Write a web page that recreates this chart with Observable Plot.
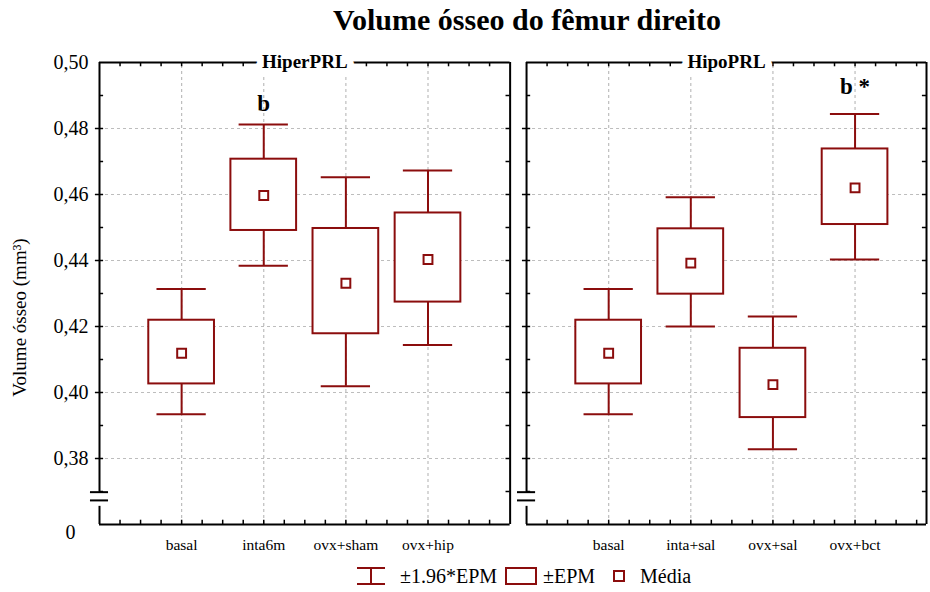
<!DOCTYPE html>
<html><head><meta charset="utf-8">
<script src="https://cdn.jsdelivr.net/npm/d3@7"></script>
<script src="https://cdn.jsdelivr.net/npm/@observablehq/plot@0.6"></script>
<style>
body{margin:0;background:#fff;}
#wrap{position:relative;width:930px;height:592px;font-family:"Liberation Serif",serif;overflow:hidden;}
#title{position:absolute;left:227px;width:600px;top:1px;text-align:center;font-weight:bold;font-size:30px;line-height:38px;font-family:"Liberation Serif",serif;}
#legend{position:absolute;top:562px;left:0;width:930px;height:28px;font-size:20px;font-family:"Liberation Serif",serif;}
#legend .it{position:absolute;top:0;display:flex;align-items:center;height:28px;}
#chart{position:absolute;left:0;top:0;}
#chart svg, #chart svg text{font-family:"Liberation Serif",serif !important;}
</style></head>
<body><div id="wrap"><div id="chart"></div><div id="title">Volume ósseo do fêmur direito</div><div id="legend"></div></div>
<script>
// ---- data ----
const panelNames = ["HiperPRL", "HipoPRL"];
const groupPanel = [0, 0, 0, 0, 1, 1, 1, 1];
const groupNames = ["basal", "inta6m", "ovx+sham", "ovx+hip", "basal", "inta+sal", "ovx+sal", "ovx+bct"];
const groupSlot = [1, 2, 3, 4, 1, 2, 3, 4];
const mean    = [0.4119, 0.4597, 0.4331, 0.4403, 0.4119, 0.4392, 0.4024, 0.4620];
const epmLow  = [0.4026, 0.4491, 0.4178, 0.4274, 0.4026, 0.4298, 0.3924, 0.4509];
const epmHigh = [0.4219, 0.4707, 0.4497, 0.4544, 0.4219, 0.4496, 0.4134, 0.4738];
const ciLow   = [0.3934, 0.4384, 0.4019, 0.4144, 0.3934, 0.4200, 0.3828, 0.4403];
const ciHigh  = [0.4314, 0.4812, 0.4652, 0.4673, 0.4314, 0.4592, 0.4230, 0.4844];
const sigLabel = ["", "b", "", "", "", "", "", "b *"];
const sigY     = [null, 0.4876, null, null, null, null, null, 0.4927];
const yTicks = [0.38, 0.40, 0.42, 0.44, 0.46, 0.48, 0.50];
const yMinor = [0.37, 0.38, 0.39, 0.40, 0.41, 0.42, 0.43, 0.44, 0.45, 0.46, 0.47, 0.48, 0.49];
const breakLabel = "0";

// ---- layout (panel extents in x units) ----
const panelStart = [0, 5.2];
const panelEnd = [5, 10.07];
const yMin = 0.36, yMax = 0.50;
const brk = {top: 0.3698, second: 0.3673, resume: 0.3655};
const RED = "#8b0d0d";
const FONT = "Liberation Serif";
const fmt = v => d3.format(".2f")(v).replace(".", ",");

const groups = groupNames.map((g, i) => ({
  name: g, panel: groupPanel[i],
  x: panelStart[groupPanel[i]] + groupSlot[i],
  mean: mean[i], lo: epmLow[i], hi: epmHigh[i], cilo: ciLow[i], cihi: ciHigh[i],
  sig: sigLabel[i], sigY: sigY[i]
}));
const panels = panelNames.map((p, i) => ({name: p, x0: panelStart[i], x1: panelEnd[i]}));

const hGrid = panels.flatMap(p => yTicks.filter(t => t < yMax).map(t => ({y: t, x1: p.x0, x2: p.x1})));
const minorSide = panels.flatMap(p => yMinor.flatMap(t => [
  {y: t, x1: p.x0, x2: p.x0 + 0.05}, {y: t, x1: p.x1 - 0.05, x2: p.x1}]));
const majorOut = panels.flatMap(p => yTicks.filter(t => t < yMax).map(t => ({y: t, x1: p.x0 - 0.05, x2: p.x0})));
const xTickPos = panels.flatMap(p => d3.range(p.x0 + 0.25, p.x1 - 0.1, 0.25));
const vTicks = xTickPos.flatMap(x => [
  {x, y1: yMin, y2: yMin + 0.0013}, {x, y1: yMax - 0.0013, y2: yMax}]);

const frameH = panels.flatMap(p => [{y: yMax, x1: p.x0, x2: p.x1}, {y: yMin, x1: p.x0, x2: p.x1}]);
const frameV = panels.flatMap(p => [
  {x: p.x1, y1: yMin, y2: yMax},
  {x: p.x0, y1: brk.top, y2: yMax},
  {x: p.x0, y1: yMin, y2: brk.resume}]);
const breaks = panels.flatMap(p => [brk.top, brk.second].map(y => ({y, x1: p.x0 - 0.11, x2: p.x0 + 0.11})));

const chart = Plot.plot({
  width: 930, height: 592,
  marginTop: 62, marginBottom: 68, marginLeft: 99, marginRight: 4,
  x: {domain: [0, 10.07], axis: null},
  y: {domain: [yMin, yMax], axis: null},
  style: {fontFamily: FONT, background: "white"},
  marks: [
    // grid
    Plot.ruleY(hGrid, {y: "y", x1: "x1", x2: "x2", stroke: "#bdbdbd", strokeWidth: 1.2, strokeDasharray: "3,3"}),
    Plot.ruleX(groups, {x: "x", y1: yMin, y2: yMax, stroke: "#bdbdbd", strokeWidth: 1.2, strokeDasharray: "3,3"}),
    // whiskers
    Plot.ruleX(groups, {x: "x", y1: "cilo", y2: "lo", stroke: RED, strokeWidth: 2}),
    Plot.ruleX(groups, {x: "x", y1: "hi", y2: "cihi", stroke: RED, strokeWidth: 2}),
    Plot.ruleY(groups, {y: "cilo", x1: d => d.x - 0.3, x2: d => d.x + 0.3, stroke: RED, strokeWidth: 2}),
    Plot.ruleY(groups, {y: "cihi", x1: d => d.x - 0.3, x2: d => d.x + 0.3, stroke: RED, strokeWidth: 2}),
    // boxes
    Plot.rect(groups, {x1: d => d.x - 0.4, x2: d => d.x + 0.4, y1: "lo", y2: "hi", fill: "white", stroke: RED, strokeWidth: 2}),
    // mean
    Plot.dot(groups, {x: "x", y: "mean", symbol: "square", r: 5, fill: "white", stroke: RED, strokeWidth: 2}),
    // significance
    Plot.text(groups.filter(d => d.sig), {x: "x", y: "sigY", text: "sig", fontFamily: FONT, fontSize: 23, fontWeight: "bold", fill: "black"}),
    // frame
    Plot.ruleY(frameH, {y: "y", x1: "x1", x2: "x2", stroke: "black", strokeWidth: 2}),
    Plot.ruleX(frameV, {x: "x", y1: "y1", y2: "y2", stroke: "black", strokeWidth: 2}),
    Plot.ruleY(breaks, {y: "y", x1: "x1", x2: "x2", stroke: "black", strokeWidth: 2}),
    Plot.ruleY(minorSide, {y: "y", x1: "x1", x2: "x2", stroke: "black", strokeWidth: 1.5}),
    Plot.ruleY(majorOut, {y: "y", x1: "x1", x2: "x2", stroke: "black", strokeWidth: 1.5}),
    Plot.ruleX(vTicks, {x: "x", y1: "y1", y2: "y2", stroke: "black", strokeWidth: 1.5}),
    // panel titles
    Plot.text(panels, {x: d => (d.x0 + d.x1) / 2, y: yMax, text: "name", fontFamily: FONT, fontSize: 19, fontWeight: "bold",
      fill: "black", stroke: "white", strokeWidth: 14, paintOrder: "stroke", dy: -1}),
    // y tick labels
    Plot.text(yTicks, {x: 0, y: d => d, text: fmt, textAnchor: "end", dx: -11, fontFamily: FONT, fontSize: 20, fill: "black"}),
    Plot.text([breakLabel], {x: 0, y: yMin, text: d => d, textAnchor: "end", dx: -24, dy: 8, fontFamily: FONT, fontSize: 20, fill: "black"}),
    // x labels
    Plot.text(groups, {x: "x", y: yMin, text: "name", dy: 21, fontFamily: FONT, fontSize: 15.5, fill: "black"}),
    // y axis label
    Plot.text(["Volume ósseo (mm³)"], {frameAnchor: "left", textAnchor: "middle", rotate: -90, dx: -80, dy: 24, fontFamily: FONT, fontSize: 19, fill: "black"})
  ]
});
document.getElementById("chart").appendChild(chart);

// legend
const legend = document.getElementById("legend");
const items = [
  {left: 356, svg: `<svg width="30" height="20"><line x1="1" x2="29" y1="2" y2="2" stroke="${RED}" stroke-width="2"/><line x1="1" x2="29" y1="18" y2="18" stroke="${RED}" stroke-width="2"/><line x1="15" x2="15" y1="2" y2="18" stroke="${RED}" stroke-width="2"/></svg>`, label: "±1.96*EPM", gap: 14},
  {left: 505, svg: `<svg width="32" height="20"><rect x="1" y="2" width="30" height="16" fill="white" stroke="${RED}" stroke-width="2"/></svg>`, label: "±EPM", gap: 6},
  {left: 612, svg: `<svg width="14" height="20"><rect x="2" y="5" width="10" height="10" fill="white" stroke="${RED}" stroke-width="2"/></svg>`, label: "Média", gap: 14}
];
for (const it of items) {
  const d = document.createElement("div");
  d.className = "it";
  d.style.left = it.left + "px";
  d.innerHTML = it.svg + `<span style="margin-left:${it.gap}px">${it.label}</span>`;
  legend.appendChild(d);
}
</script></body></html>
